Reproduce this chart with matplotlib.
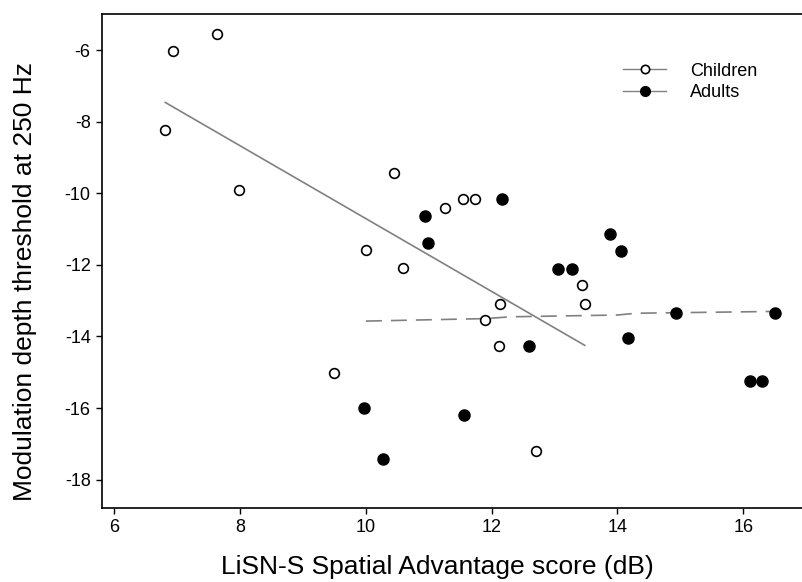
import numpy as np
import matplotlib.pyplot as plt
from matplotlib.lines import Line2D

plt.rcParams['font.family'] = ['Liberation Sans', 'DejaVu Sans']
plt.rcParams['axes.unicode_minus'] = False

# children (open circles)
child_x = [6.81, 6.93, 7.63, 7.98, 10.44, 10.00, 10.59, 11.26, 11.54, 11.74,
           13.44, 13.48, 12.13, 11.89, 12.11, 9.50, 12.71]
child_y = [-8.22, -6.03, -5.56, -9.91, -9.44, -11.59, -12.10, -10.42, -10.17, -10.17,
           -12.57, -13.09, -13.09, -13.54, -14.26, -15.01, -17.21]

# adults (filled circles)
adult_x = [10.94, 10.99, 12.16, 13.88, 14.06, 13.06, 13.28, 12.59, 14.16, 9.97,
           11.56, 10.27, 14.93, 16.50, 16.10, 16.30]
adult_y = [-10.64, -11.38, -10.17, -11.14, -11.60, -12.11, -12.11, -14.26, -14.05, -15.99,
           -16.20, -17.42, -13.34, -13.34, -15.23, -15.23]

# smoothed fit for adults
adult_fit_x = [10.0, 11.9, 12.3, 14.0, 14.3, 16.5]
adult_fit_y = [-13.57, -13.50, -13.45, -13.40, -13.35, -13.30]

fig = plt.figure(figsize=(8.03, 5.82), dpi=100)
ax = fig.add_axes([0.1267, 0.1266, 0.8733, 0.8488])

# linear fit for children
k, b = np.polyfit(child_x, child_y, 1)
fx = np.array([min(child_x), max(child_x)])
ax.plot(fx, k * fx + b, color='#808080', lw=1.2)
ax.plot(adult_fit_x, adult_fit_y, color='#808080', lw=1.2, dashes=(9.6, 5.4))

ax.plot(child_x, child_y, 'o', ms=7, mfc='white', mec='black', mew=1.2, ls='none')
ax.plot(adult_x, adult_y, 'o', ms=8, mfc='black', mec='black', ls='none')

ax.set_xlim(5.8, 16.95)
ax.set_ylim(-18.8, -5.0)
ax.set_xticks([6, 8, 10, 12, 14, 16])
ax.set_yticks([-18, -16, -14, -12, -10, -8, -6])
ax.tick_params(direction='out', length=4, width=1, labelsize=13, pad=4)
for s in ['left', 'bottom', 'top']:
    ax.spines[s].set_linewidth(1.2)
ax.spines['right'].set_visible(False)

ax.set_xlabel('LiSN-S Spatial Advantage score (dB)', fontsize=19)
ax.set_ylabel('Modulation depth threshold at 250 Hz', fontsize=19)
ax.xaxis.set_label_coords(0.479, -0.095)
ax.yaxis.set_label_coords(-0.092, 0.46)

handles = [Line2D([], [], color='#808080', lw=1, marker='o', ms=6, mfc='white', mec='black', mew=1.2),
           Line2D([], [], color='#808080', lw=1, marker='o', ms=7, mfc='black', mec='black')]
ax.legend(handles, ['Children', 'Adults'], loc='upper left', bbox_to_anchor=(0.72, 0.935),
          frameon=False, fontsize=13, handlelength=2.4, handletextpad=1.3,
          labelspacing=0.25)

fig.savefig('out.png', dpi=100)
